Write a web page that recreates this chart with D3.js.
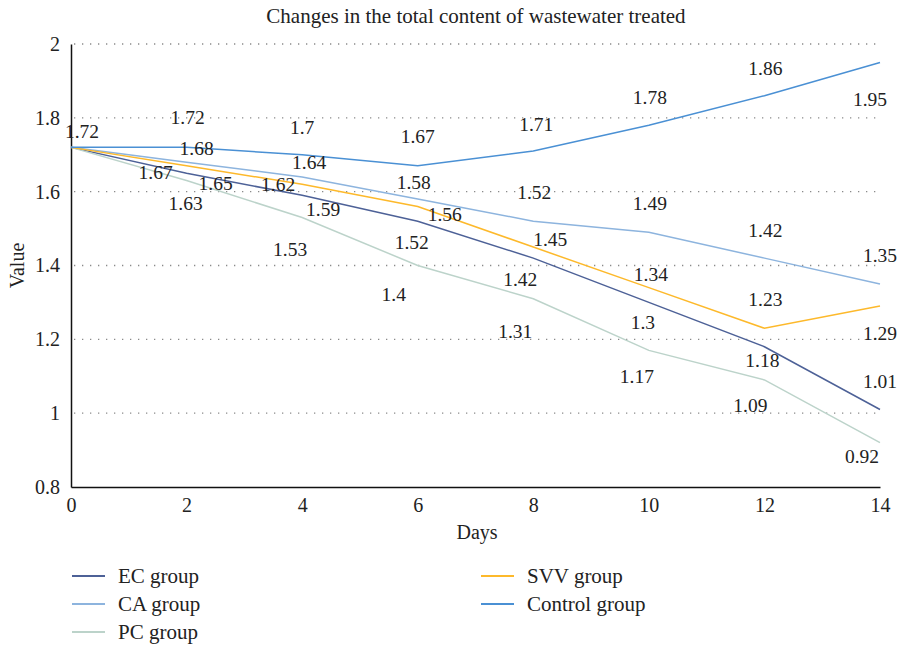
<!DOCTYPE html>
<html>
<head>
<meta charset="utf-8">
<script src="https://cdn.jsdelivr.net/npm/d3@7"></script>
<style>
  body { margin: 0; background: #fff; }
  text { font-family: "Liberation Serif", "DejaVu Serif", serif; fill: #222; }
</style>
</head>
<body>
<div class="chart"></div>
<script>
// chart data
const days = [0, 2, 4, 6, 8, 10, 12, 14];
const ecGroup = [1.72, 1.65, 1.59, 1.52, 1.42, 1.3, 1.18, 1.01];
const caGroup = [1.72, 1.68, 1.64, 1.58, 1.52, 1.49, 1.42, 1.35];
const pcGroup = [1.72, 1.63, 1.53, 1.4, 1.31, 1.17, 1.09, 0.92];
const svvGroup = [1.72, 1.67, 1.62, 1.56, 1.45, 1.34, 1.23, 1.29];
const controlGroup = [1.72, 1.72, 1.7, 1.67, 1.71, 1.78, 1.86, 1.95];
const yTicks = [0.8, 1, 1.2, 1.4, 1.6, 1.8, 2];
const xTicks = [0, 2, 4, 6, 8, 10, 12, 14];

const series = [
    {name: "EC group", values: ecGroup, color: "#4d6197"},
    {name: "CA group", values: caGroup, color: "#8db4de"},
    {name: "PC group", values: pcGroup, color: "#bcd3ca"},
    {name: "SVV group", values: svvGroup, color: "#fdb92b"},
    {name: "Control group", values: controlGroup, color: "#4a90d4"}
];

// where each data label sits relative to its point (null = hidden)
const labelOffsets = {
    "EC group": [null, [29, 10], [21, 14], [-6, 21], [-13, 21], [-6, 20], [-2, 13], [0, -28]],
    "CA group": [null, [10, -14], [7, -15], [-4, -17], [1, -29], [1, -29], [1, -28], [0, -29]],
    "PC group": [null, [-1, 23], [-12, 32], [-24, 29], [-18, 32], [-12, 26], [-14, 25], [-18, 13]],
    "SVV group": [null, [-31, 6], [-24, 0], [27, 8], [17, -8], [2, -13], [1, -29], [0, 27]],
    "Control group": [[11, -16], [1, -30], [0, -28], [0, -30], [3, -27], [1, -28], [1, -28], [-10, 37]]
};

const width = 899, height = 648;
const margin = {left: 71, right: 19, top: 44, bottom: 161};

const svg = d3.select(".chart").append("svg")
    .attr("width", width)
    .attr("height", height);

const x = d3.scaleLinear().domain([0, 14]).range([margin.left, width - margin.right]);
const y = d3.scaleLinear().domain([0.8, 2]).range([height - margin.bottom, margin.top]);

// title
svg.append("text")
    .attr("x", 476).attr("y", 23)
    .attr("text-anchor", "middle")
    .style("font-size", "21px")
    .text("Changes in the total content of wastewater treated");

// dotted gridlines
svg.append("g")
    .selectAll("line")
    .data(yTicks.filter(d => d > 0.8))
    .join("line")
    .attr("x1", x(0) + 3).attr("x2", x(14))
    .attr("y1", d => y(d)).attr("y2", d => y(d))
    .style("stroke", "#8a8a8a")
    .style("stroke-width", 1.3)
    .style("stroke-dasharray", "1.3,6.7");

// axes
const yAxis = svg.append("g")
    .attr("transform", `translate(${x(0)},0)`)
    .call(d3.axisLeft(y).tickValues(yTicks).tickSize(0).tickPadding(11).tickFormat(d3.format("")));
const xAxis = svg.append("g")
    .attr("transform", `translate(0,${y(0.8)})`)
    .call(d3.axisBottom(x).tickValues(xTicks).tickSize(0).tickPadding(11));
[yAxis, xAxis].forEach(a => {
    a.attr("font-family", null);
    a.select(".domain").style("stroke", "#111").style("stroke-width", 1.5);
    a.selectAll("text").style("font-size", "20px").style("fill", "#222");
});

svg.append("text")
    .attr("transform", `translate(24,${(y(0.8) + y(2)) / 2}) rotate(-90)`)
    .attr("text-anchor", "middle")
    .style("font-size", "20px")
    .text("Value");
svg.append("text")
    .attr("x", 477).attr("y", 539)
    .attr("text-anchor", "middle")
    .style("font-size", "20px")
    .text("Days");

// lines
const line = d3.line()
    .x((d, i) => x(days[i]))
    .y(d => y(d));

svg.append("g")
    .selectAll("path")
    .data(series)
    .join("path")
    .attr("d", d => line(d.values))
    .style("fill", "none")
    .style("stroke", d => d.color)
    .style("stroke-width", 1.5);

// data labels
series.forEach(s => {
    svg.append("g")
        .selectAll("text")
        .data(s.values.map((v, i) => ({v: v, i: i, off: labelOffsets[s.name][i]})).filter(d => d.off))
        .join("text")
        .attr("x", d => x(days[d.i]) + d.off[0])
        .attr("y", d => y(d.v) + d.off[1])
        .attr("dy", "0.35em")
        .attr("text-anchor", "middle")
        .style("font-size", "19.5px")
        .text(d => d.v);
});

// legend
const legendPos = [[72, 576], [72, 604], [72, 632], [481, 576], [481, 604]];
const legend = svg.append("g")
    .selectAll("g")
    .data(series)
    .join("g")
    .attr("transform", (d, i) => `translate(${legendPos[i][0]},${legendPos[i][1]})`);
legend.append("line")
    .attr("x1", 0).attr("x2", 33)
    .style("stroke", d => d.color)
    .style("stroke-width", 2);
legend.append("text")
    .attr("x", 46).attr("dy", "0.32em")
    .style("font-size", "21px")
    .text(d => d.name);
</script>
</body>
</html>
